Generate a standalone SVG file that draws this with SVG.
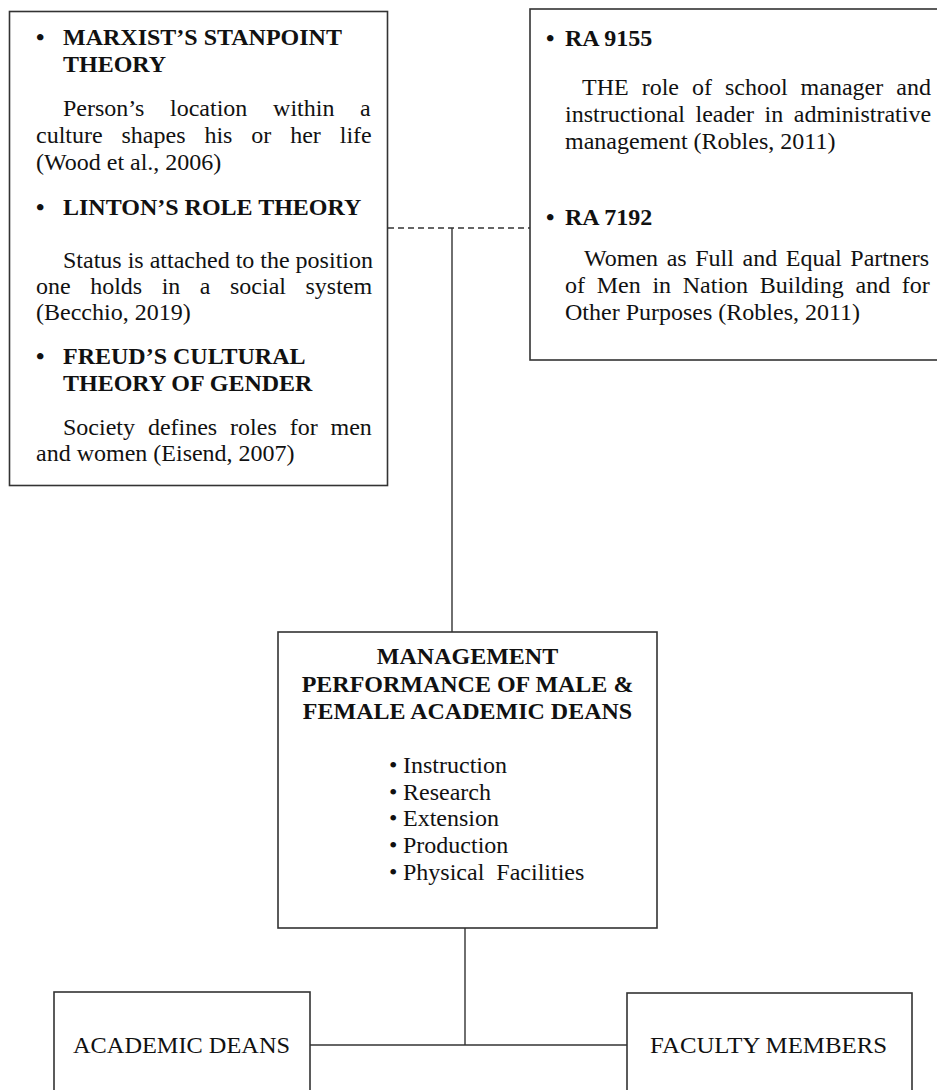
<svg xmlns="http://www.w3.org/2000/svg" width="937" height="1090" viewBox="0 0 937 1090">
<style>
  .box { fill: #ffffff; stroke: #333333; stroke-width: 1.6; }
  .t { font-family: "Liberation Serif", "Times New Roman", serif; font-size: 24px; fill: #111111; }
  .b { font-weight: bold; }
  .link { stroke: #333333; stroke-width: 1.4; fill: none; }
  .dash { stroke-dasharray: 6 4; }
</style>
<rect x="0" y="0" width="937" height="1090" fill="#ffffff"/>

<g id="connectors">
  <line class="link dash" x1="388" y1="228" x2="530" y2="228"/>
  <line class="link" x1="452" y1="228" x2="452" y2="632"/>
  <line class="link" x1="465" y1="928" x2="465" y2="1045"/>
  <line class="link" x1="310" y1="1045" x2="627" y2="1045"/>
</g>

<g id="theories">
  <rect class="box" x="9.5" y="11.5" width="378" height="474"/>
  <text class="t b" x="36" y="45">•</text>
  <text class="t b" x="63" y="45">MARXIST’S STANPOINT</text>
  <text class="t b" x="63" y="72">THEORY</text>
  <text class="t" x="63" y="116" style="word-spacing:19.7px">Person’s location within a</text>
  <text class="t" x="36" y="143" style="word-spacing:12.9px">culture shapes his or her life</text>
  <text class="t" x="36" y="170">(Wood et al., 2006)</text>
  <text class="t b" x="36" y="215">•</text>
  <text class="t b" x="63" y="215">LINTON’S ROLE THEORY</text>
  <text class="t" x="63" y="268">Status is attached to the position</text>
  <text class="t" x="36" y="294" style="word-spacing:13.5px">one holds in a social system</text>
  <text class="t" x="36" y="320">(Becchio, 2019)</text>
  <text class="t b" x="36" y="364">•</text>
  <text class="t b" x="63" y="364">FREUD’S CULTURAL</text>
  <text class="t b" x="63" y="391">THEORY OF GENDER</text>
  <text class="t" x="63" y="435" style="word-spacing:6.9px">Society defines roles for men</text>
  <text class="t" x="36" y="461">and women (Eisend, 2007)</text>
</g>

<g id="laws">
  <rect class="box" x="530" y="9" width="420" height="351"/>
  <text class="t b" x="546" y="46">•</text>
  <text class="t b" x="565" y="46">RA 9155</text>
  <text class="t" x="582" y="95" style="word-spacing:7px">THE role of school manager and</text>
  <text class="t" x="565" y="122" style="word-spacing:4.5px">instructional leader in administrative</text>
  <text class="t" x="565" y="149">management (Robles, 2011)</text>
  <text class="t b" x="546" y="225">•</text>
  <text class="t b" x="565" y="225">RA 7192</text>
  <text class="t" x="584" y="266" style="word-spacing:2.6px">Women as Full and Equal Partners</text>
  <text class="t" x="565" y="293" style="word-spacing:5.7px">of Men in Nation Building and for</text>
  <text class="t" x="565" y="320">Other Purposes (Robles, 2011)</text>
</g>

<g id="management">
  <rect class="box" x="278" y="632" width="379" height="296"/>
  <text class="t b" x="467.5" y="664" text-anchor="middle">MANAGEMENT</text>
  <text class="t b" x="467.5" y="692" text-anchor="middle">PERFORMANCE OF MALE &amp;</text>
  <text class="t b" x="467.5" y="719" text-anchor="middle">FEMALE ACADEMIC DEANS</text>
  <text class="t"><tspan x="389" y="773">•</tspan><tspan x="403" y="773">Instruction</tspan></text>
  <text class="t"><tspan x="389" y="800">•</tspan><tspan x="403" y="800">Research</tspan></text>
  <text class="t"><tspan x="389" y="826">•</tspan><tspan x="403" y="826">Extension</tspan></text>
  <text class="t"><tspan x="389" y="853">•</tspan><tspan x="403" y="853">Production</tspan></text>
  <text class="t" xml:space="preserve"><tspan x="389" y="880">•</tspan><tspan x="403" y="880">Physical  Facilities</tspan></text>
</g>

<g id="academic-deans">
  <rect class="box" x="54" y="992" width="256" height="110"/>
  <text class="t" x="73" y="1053" font-size="22" textLength="217" lengthAdjust="spacingAndGlyphs">ACADEMIC DEANS</text>
</g>

<g id="faculty-members">
  <rect class="box" x="627" y="993" width="285" height="110"/>
  <text class="t" x="650" y="1053" font-size="22" textLength="237" lengthAdjust="spacingAndGlyphs">FACULTY MEMBERS</text>
</g>
</svg>
